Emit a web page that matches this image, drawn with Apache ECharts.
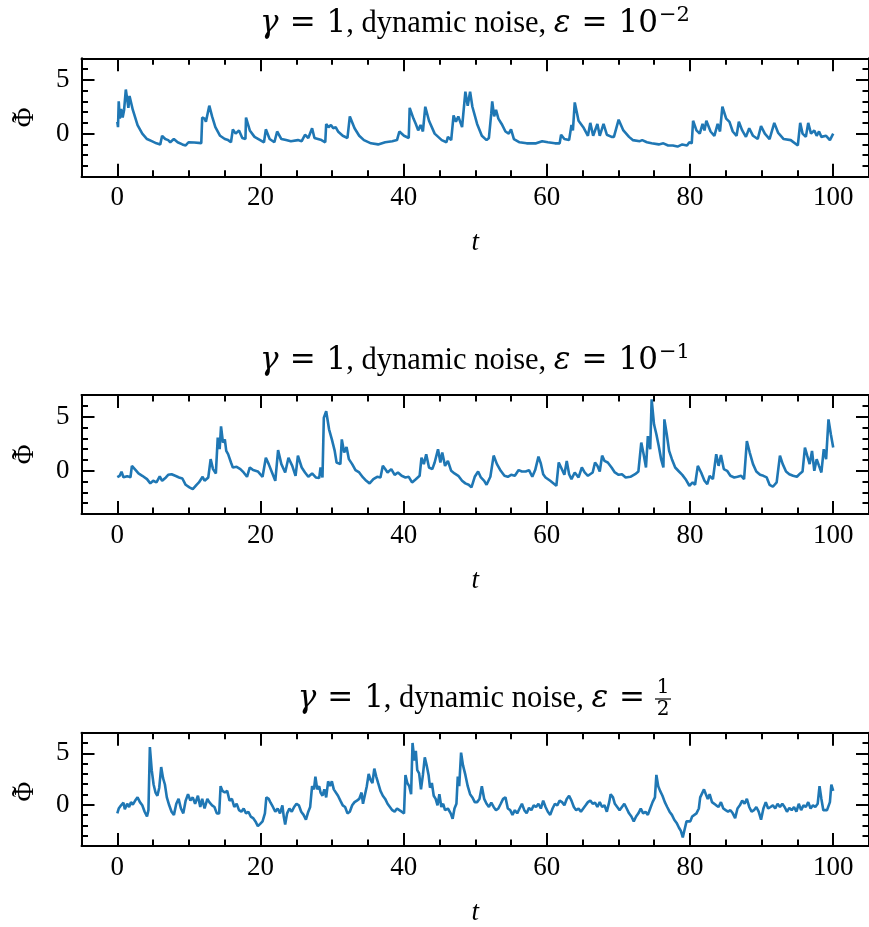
<!DOCTYPE html>
<html><head><meta charset="utf-8">
<script src="https://cdn.jsdelivr.net/npm/echarts@6/dist/echarts.min.js"></script>
<style>html,body{margin:0;padding:0;background:#fff}#c{width:869px;height:927px}</style>
</head><body><div id="c"></div>
<script>
// ---- data: [t, Phi~] pairs ----
const series1 = [[0,1.1],[0.1,0.6],[0.2,3.0],[0.35,1.4],[0.55,2.3],[0.75,1.5],[0.95,2.2],[1.19,4.1],[1.4,3.1],[1.55,2.4],[1.71,3.5],[2.17,2.2],[2.83,0.8],[3.49,0.0],[4.15,-0.5],[4.81,-0.7],[5.47,-0.9],[6.0,-1.0],[6.2,-1.0],[6.26,-0.2],[6.7,-0.5],[7.11,-0.6],[7.4,-0.8],[7.9,-0.5],[8.43,-0.8],[9.09,-1.0],[9.55,-1.1],[9.95,-0.8],[10.74,-0.82],[11.73,-0.88],[11.86,1.5],[12.19,1.4],[12.38,1.1],[12.85,2.6],[13.24,1.6],[13.7,0.6],[14.36,-0.2],[15.02,-0.5],[15.48,-0.6],[15.88,-0.8],[16.14,0.4],[16.53,0.0],[17.0,0.3],[17.46,-0.4],[17.9,-0.5],[17.98,1.5],[18.51,0.3],[19.17,-0.3],[19.96,-0.6],[20.49,-0.8],[20.75,0.4],[21.28,-0.5],[21.94,-0.8],[22.33,0.2],[22.92,-0.5],[23.58,-0.6],[24.24,-0.7],[25.23,-0.6],[25.76,-0.7],[26.22,-0.1],[26.68,-0.4],[27.21,0.5],[27.54,-0.4],[28.52,-0.6],[29.05,-0.8],[29.18,0.9],[29.51,0.6],[29.84,0.8],[30.17,0.5],[30.5,0.6],[30.83,0.2],[31.49,-0.2],[32.15,-0.4],[32.4,-0.5],[32.48,1.6],[33.14,0.5],[33.79,-0.2],[34.45,-0.6],[35.44,-0.9],[36.43,-1.0],[37.42,-0.8],[38.41,-0.7],[39.07,-0.6],[39.4,0.2],[40.05,-0.2],[40.71,-0.4],[40.84,2.4],[41.37,1.4],[41.7,0.9],[42.03,0.3],[42.36,0.8],[42.69,0.2],[43.02,2.5],[43.54,1.2],[44.33,0.0],[45.32,-0.6],[45.98,-0.8],[46.18,-0.3],[46.64,-0.6],[46.97,1.7],[47.3,1.1],[47.63,1.6],[48.16,0.6],[48.62,3.9],[48.95,2.6],[49.28,3.9],[49.6,2.5],[50.26,0.9],[50.92,-0.2],[51.58,-0.6],[51.91,-0.4],[52.24,1.9],[52.37,3.0],[52.64,1.6],[52.9,2.2],[53.23,1.4],[53.69,0.9],[54.22,0.2],[54.68,0.0],[55.0,0.4],[55.4,-0.5],[56.19,-0.8],[57.18,-0.9],[58.5,-0.9],[59.35,-0.7],[60.14,-0.8],[61.13,-0.9],[61.79,-0.9],[61.99,-0.1],[62.45,-0.5],[63.11,-0.6],[63.44,0.8],[63.64,0.3],[63.9,2.9],[64.43,1.2],[65.09,0.6],[65.74,-0.2],[66.07,1.0],[66.47,-0.2],[67.06,0.9],[67.39,-0.2],[67.92,0.9],[68.38,-0.1],[69.04,-0.3],[69.37,-0.3],[70.03,1.3],[70.69,0.3],[71.48,-0.3],[72.0,-0.6],[72.99,-0.7],[73.32,-0.6],[73.98,-0.8],[74.64,-0.9],[75.63,-1.0],[76.28,-0.9],[76.94,-1.1],[77.6,-1.1],[78.26,-1.2],[78.92,-1.0],[79.58,-1.1],[79.91,-0.8],[80.24,-0.9],[80.43,1.2],[80.9,0.3],[81.36,0.0],[81.75,0.9],[82.02,0.3],[82.28,1.2],[82.87,0.2],[83.4,-0.2],[83.86,0.9],[84.19,0.2],[84.52,2.5],[85.05,1.4],[85.51,1.1],[85.97,0.2],[86.5,-0.2],[86.82,1.1],[87.29,0.3],[87.81,-0.3],[88.27,0.5],[88.8,-0.2],[89.46,-0.5],[89.92,0.7],[90.45,0.0],[91.11,-0.5],[91.77,1.0],[92.29,0.1],[93.08,-0.5],[94.07,-0.6],[95.06,-1.1],[95.39,1.0],[95.72,0.0],[96.18,-0.3],[96.51,1.0],[96.9,0.0],[97.36,0.3],[97.69,-0.2],[98.02,0.2],[98.35,-0.3],[99.01,-0.2],[99.54,-0.6],[100,0.0]];

const series2 = [[0,-0.6],[0.33,-0.47],[0.59,-0.1],[0.86,-0.6],[1.38,-0.5],[1.84,-0.6],[2.04,0.45],[2.31,0.5],[2.57,0.05],[2.96,-0.25],[3.49,-0.47],[4.15,-0.78],[4.61,-1.17],[5.01,-0.93],[5.47,-1.08],[5.93,-0.53],[6.26,-0.93],[6.79,-0.62],[7.11,-0.38],[7.58,-0.32],[8.1,-0.47],[8.63,-0.62],[9.09,-0.72],[9.55,-1.3],[10.08,-1.54],[10.54,-1.7],[11.07,-1.3],[11.4,-1.08],[11.92,-0.56],[12.19,-0.93],[12.71,-0.62],[13.04,1.07],[13.37,0.15],[13.77,-0.25],[14.03,3.06],[14.3,2.0],[14.49,4.1],[14.76,2.6],[15.02,2.9],[15.22,1.83],[15.48,1.53],[15.88,0.76],[16.14,0.3],[16.67,0.36],[17.19,0.15],[17.65,-0.16],[18.12,-0.56],[18.51,0.3],[18.97,0.06],[19.63,-0.07],[20.29,-0.56],[20.75,1.2],[21.15,0.61],[21.61,-0.16],[22.07,-0.93],[22.46,1.9],[22.92,0.61],[23.45,-0.16],[23.91,1.2],[24.44,0.45],[24.9,-0.47],[25.23,1.4],[25.76,0.3],[26.22,-0.16],[26.68,-0.56],[27.21,-0.25],[27.73,-0.62],[28.2,-0.68],[28.39,0.3],[28.66,-0.62],[28.85,4.9],[29.18,5.5],[29.58,3.83],[29.97,2.9],[30.37,1.83],[30.63,0.76],[31.16,0.61],[31.36,2.9],[31.69,1.68],[32.02,2.2],[32.35,1.07],[32.81,0.61],[33.27,0.06],[33.79,-0.16],[34.32,-0.62],[34.78,-0.93],[35.24,-1.17],[35.77,-0.78],[36.3,-0.56],[36.76,-0.62],[37.09,0.45],[37.42,0.15],[37.75,-0.16],[38.27,0.15],[38.74,-0.38],[39.2,-0.16],[39.72,-0.47],[40.25,-0.62],[40.71,-0.56],[41.17,-1.08],[41.7,-0.78],[42.23,-0.47],[42.49,1.2],[42.82,0.61],[43.15,1.53],[43.54,0.3],[44.0,0.15],[44.33,0.76],[44.8,1.99],[45.13,0.76],[45.39,1.68],[45.78,0.45],[46.18,0.91],[46.64,-0.01],[47.1,-0.25],[47.63,-0.47],[48.16,-0.93],[48.62,-1.17],[49.08,-1.3],[49.47,-1.54],[49.93,-0.56],[50.4,-0.07],[50.79,-0.62],[51.25,-0.93],[51.58,-1.3],[52.11,-0.56],[52.57,1.4],[53.03,0.61],[53.56,-0.01],[54.08,-0.47],[54.55,-0.56],[55.01,-0.38],[55.53,-0.47],[56.06,0.06],[56.52,-0.07],[57.05,-0.07],[57.51,0.06],[57.97,-0.56],[58.37,0.06],[58.83,1.3],[59.16,0.67],[59.49,-0.32],[59.82,-0.62],[60.47,-0.93],[61.33,-1.39],[61.66,0.76],[61.99,0.3],[62.45,-0.38],[62.78,0.91],[63.11,-0.32],[63.44,-0.78],[63.9,-0.16],[64.43,-0.62],[64.89,0.3],[65.28,-0.16],[65.74,-0.47],[66.4,-0.16],[66.73,0.76],[67.06,0.45],[67.39,-0.07],[67.72,1.4],[68.05,0.91],[68.51,0.76],[69.04,0.3],[69.5,-0.16],[70.03,-0.38],[70.49,-0.32],[71.01,-0.62],[71.67,-0.56],[72.33,-0.32],[72.79,-0.07],[73.19,2.6],[73.52,1.53],[73.85,0.3],[74.11,3.2],[74.44,1.99],[74.64,6.6],[74.97,4.29],[75.3,3.37],[75.63,2.29],[75.96,1.07],[76.28,0.3],[76.42,4.75],[76.75,3.37],[77.08,1.83],[77.47,1.07],[77.93,0.3],[78.46,-0.07],[78.92,-0.38],[79.38,-0.78],[79.91,-1.39],[80.37,-1.08],[80.7,-1.3],[81.09,0.45],[81.55,-0.16],[82.02,-0.93],[82.41,-1.24],[82.74,-0.47],[83.2,-0.78],[83.66,1.53],[83.99,0.45],[84.32,1.46],[84.72,0.15],[85.18,-0.01],[85.64,-0.47],[86.17,-0.62],[86.63,-0.56],[87.15,-0.47],[87.55,-0.78],[87.94,2.75],[88.34,1.68],[88.8,0.61],[89.26,-0.07],[89.79,-0.38],[90.25,-0.47],[90.71,-0.62],[91.11,-1.3],[91.57,-1.48],[92.1,-1.08],[92.56,1.4],[92.95,0.61],[93.41,-0.07],[93.87,-0.32],[94.4,-0.47],[94.93,-0.56],[95.39,-0.25],[95.72,-0.07],[96.05,2.14],[96.38,1.37],[96.71,0.61],[97.04,1.83],[97.36,-0.01],[97.69,1.07],[98.02,0.45],[98.35,-0.16],[98.68,1.99],[99.01,1.07],[99.34,4.75],[99.67,3.37],[100,2.14]];

const series3 = [[0,-0.83],[0.2,-0.36],[0.53,-0.05],[0.86,0.2],[1.05,-0.43],[1.38,0.1],[1.65,-0.21],[1.91,0.26],[2.17,0.01],[2.5,0.41],[2.83,0.72],[3.16,0.26],[3.49,-0.05],[3.82,-0.67],[4.15,-1.14],[4.35,-0.52],[4.55,5.6],[4.81,3.36],[5.07,1.97],[5.34,1.19],[5.6,0.88],[5.86,1.66],[6.13,3.67],[6.39,2.59],[6.65,1.97],[6.92,0.72],[7.25,-0.05],[7.58,-0.67],[7.91,-0.98],[8.24,0.1],[8.56,0.57],[8.89,-0.36],[9.22,-0.83],[9.55,0.41],[9.88,1.03],[10.21,0.41],[10.54,0.72],[10.87,0.1],[11.26,0.88],[11.59,-0.21],[11.86,0.57],[12.19,-0.36],[12.58,0.57],[12.85,0.26],[13.24,-0.05],[13.57,-0.21],[13.9,-0.83],[14.23,-0.83],[14.43,1.81],[14.69,1.35],[15.02,1.19],[15.35,1.35],[15.68,0.41],[16.01,0.57],[16.34,-0.21],[16.67,0.1],[17.0,-0.52],[17.33,-0.67],[17.65,-0.36],[17.98,-0.83],[18.31,-0.67],[18.64,-1.14],[18.97,-1.29],[19.3,-1.61],[19.63,-2.07],[19.96,-1.85],[20.29,-1.61],[20.62,-0.83],[20.82,0.72],[21.15,0.57],[21.41,0.2],[21.74,-0.21],[22.07,-0.67],[22.4,-0.36],[22.73,-0.83],[23.06,-0.05],[23.25,-1.14],[23.45,-1.92],[23.72,-0.83],[24.04,-0.36],[24.37,-0.67],[24.7,-0.21],[25.03,0.1],[25.36,-0.05],[25.69,-0.67],[26.02,-0.98],[26.35,-1.45],[26.68,-0.67],[26.94,-0.21],[27.21,1.81],[27.47,1.5],[27.67,2.74],[27.93,1.5],[28.2,1.81],[28.39,1.19],[28.66,0.88],[28.92,1.5],[29.18,0.72],[29.45,2.28],[29.71,1.81],[29.97,2.28],[30.24,1.5],[30.5,1.35],[30.83,0.88],[31.16,0.41],[31.49,-0.05],[31.82,-0.21],[32.15,-0.83],[32.48,-0.67],[32.81,-0.05],[33.14,0.26],[33.47,0.41],[33.79,0.57],[34.12,1.19],[34.32,0.1],[34.58,0.1],[34.85,1.81],[35.11,2.99],[35.37,2.43],[35.64,2.12],[35.9,3.52],[36.17,2.74],[36.43,2.12],[36.76,1.35],[37.09,0.88],[37.42,0.57],[37.75,0.1],[38.08,-0.21],[38.41,-0.52],[38.74,-0.67],[39.07,-0.36],[39.4,-0.52],[39.72,-0.67],[40.05,-0.83],[40.25,2.9],[40.51,2.12],[40.78,1.81],[41.04,1.03],[41.24,6.0],[41.5,4.3],[41.7,5.23],[41.9,3.36],[42.16,3.05],[42.42,1.5],[42.69,2.9],[42.95,4.6],[43.21,3.83],[43.48,2.9],[43.68,1.66],[43.94,2.12],[44.2,0.88],[44.47,0.57],[44.73,-0.05],[44.99,1.03],[45.26,-0.21],[45.52,0.1],[45.78,-0.52],[46.18,-0.36],[46.57,-0.83],[46.84,-1.36],[47.1,-0.36],[47.37,0.1],[47.56,2.74],[47.76,1.81],[48.02,5.07],[48.29,3.83],[48.62,2.9],[48.95,1.81],[49.28,1.03],[49.6,0.72],[49.93,0.26],[50.26,0.26],[50.59,0.57],[50.92,1.81],[51.25,0.57],[51.58,0.1],[51.91,-0.21],[52.24,0.2],[52.57,-0.21],[52.9,-0.52],[53.23,-0.36],[53.56,0.1],[53.89,0.57],[54.22,0.72],[54.55,-0.36],[54.88,-0.52],[55.2,-0.98],[55.53,-0.52],[55.86,-0.83],[56.19,-0.36],[56.52,0.1],[56.85,-0.52],[57.18,-0.83],[57.51,-0.3],[57.84,-0.52],[58.17,-0.05],[58.5,-0.21],[58.83,0.1],[59.16,-0.36],[59.49,0.41],[59.82,-0.21],[60.14,-0.67],[60.47,-0.98],[60.8,-0.36],[61.13,0.1],[61.46,-0.05],[61.79,0.41],[62.12,0.26],[62.45,-0.05],[62.78,0.57],[63.11,0.88],[63.44,0.41],[63.77,-0.21],[64.1,-0.52],[64.43,-0.36],[64.76,-0.67],[65.09,-0.36],[65.42,-0.05],[65.74,0.26],[66.07,0.41],[66.4,0.1],[66.73,0.2],[67.06,-0.21],[67.39,0.26],[67.72,-0.21],[68.05,-0.05],[68.38,-0.67],[68.71,0.26],[68.91,1.03],[69.24,0.72],[69.5,0.1],[69.83,-0.21],[70.16,-0.52],[70.49,-0.21],[70.82,0.1],[71.15,-0.36],[71.48,-0.83],[71.81,-1.14],[72.14,-1.61],[72.47,-1.14],[72.79,-0.83],[73.12,-0.36],[73.45,-0.83],[73.78,-0.67],[74.11,-0.98],[74.44,-0.36],[74.77,0.26],[75.1,0.72],[75.3,2.9],[75.56,1.81],[75.82,1.35],[76.15,0.88],[76.48,0.26],[76.81,-0.21],[77.14,-0.67],[77.47,-0.98],[77.8,-1.45],[78.13,-1.76],[78.46,-2.23],[78.72,-2.54],[78.99,-3.16],[79.25,-2.38],[79.51,-1.61],[79.78,-1.45],[80.04,-1.61],[80.3,-1.14],[80.57,-1.29],[80.9,-0.83],[81.23,-0.36],[81.42,0.72],[81.69,0.88],[81.95,1.5],[82.21,1.03],[82.48,0.57],[82.74,1.03],[83.07,0.26],[83.33,0.41],[83.66,-0.05],[83.99,-0.21],[84.32,0.26],[84.65,-0.36],[84.98,-0.52],[85.31,-0.67],[85.64,-0.52],[85.97,-0.83],[86.3,-1.29],[86.63,-0.36],[86.96,-0.05],[87.29,0.41],[87.62,0.1],[87.94,0.57],[88.27,-0.21],[88.6,-0.67],[88.93,-0.52],[89.26,-0.21],[89.59,-0.67],[89.92,-1.45],[90.25,-0.36],[90.58,0.26],[90.91,-0.36],[91.24,-0.21],[91.57,-0.05],[91.9,-0.36],[92.23,0.1],[92.56,-0.21],[92.89,0.1],[93.21,-0.21],[93.54,-0.67],[93.87,-0.3],[94.2,-0.52],[94.53,-0.21],[94.86,-0.67],[95.19,0.1],[95.52,-0.52],[95.85,-0.05],[96.18,-0.21],[96.51,0.26],[96.84,-0.36],[97.17,-0.05],[97.5,-0.21],[97.83,0.1],[98.09,1.81],[98.35,0.57],[98.62,-0.52],[98.88,-0.67],[99.14,-0.52],[99.34,-0.36],[99.54,0.26],[99.74,1.97],[100,1.35]];

const xMajorTicks = [0, 20, 40, 60, 80, 100];
const yMajorTicks = [0, 5];
const xRange = [-5, 105];
const yRange = [-4, 7];
const xLabel = 't';
const yLabelBase = '\u03A6';
const yLabelAccent = '\u02DC';
const titleExps = ['\u22122', '\u22121'];

// ---- styling / layout ----
const FONT = 'Liberation Serif';
const MATH = 'DejaVu Serif';
const BLACK = '#000';
const panels = [
  {top: 58.3, height: 118.4, data: series1, titleY: 24},
  {top: 395, height: 119, data: series2, titleY: 361},
  {top: 732.7, height: 118, data: series3, titleY: 699}
];
const gridLeft = 81.5, gridWidth = 790;
const MAJ = 13, MIN = 6.5, LW = 2;

const grids = [], xAxes = [], yAxes = [], series = [];
panels.forEach((p, i) => {
  grids.push({left: gridLeft, top: p.top, width: gridWidth, height: p.height, containLabel: false});
  const baseX = {gridIndex: i, type: 'value', min: xRange[0], max: xRange[1],
    splitLine: {show: false}, axisPointer: {show: false}};
  const baseY = {gridIndex: i, type: 'value', min: yRange[0], max: yRange[1],
    splitLine: {show: false}, axisPointer: {show: false}};
  const xi = xAxes.length, yi = yAxes.length;
  const tick = (len, custom) => Object.assign({show: true, inside: true, length: len, lineStyle: {color: BLACK, width: LW}}, custom ? {customValues: custom} : {});
  xAxes.push(Object.assign({}, baseX, {position: 'bottom',
    axisLine: {show: true, onZero: false, lineStyle: {color: BLACK, width: LW}},
    axisTick: tick(MAJ, xMajorTicks),
    axisLabel: {show: true, customValues: xMajorTicks, margin: 8, color: BLACK, fontSize: 27, fontFamily: FONT},
    name: xLabel, nameLocation: 'middle', nameGap: 53,
    nameTextStyle: {fontStyle: 'italic', fontSize: 27, fontFamily: FONT, color: BLACK}}));
  xAxes.push(Object.assign({}, baseX, {position: 'bottom', interval: 5,
    axisLine: {show: false, onZero: false}, axisTick: tick(MIN), axisLabel: {show: false}}));
  xAxes.push(Object.assign({}, baseX, {position: 'top',
    axisLine: {show: true, onZero: false, lineStyle: {color: BLACK, width: LW}},
    axisTick: tick(MAJ, xMajorTicks), axisLabel: {show: false}}));
  xAxes.push(Object.assign({}, baseX, {position: 'top', interval: 5,
    axisLine: {show: false, onZero: false}, axisTick: tick(MIN), axisLabel: {show: false}}));
  yAxes.push(Object.assign({}, baseY, {position: 'left',
    axisLine: {show: true, onZero: false, lineStyle: {color: BLACK, width: LW}},
    axisTick: tick(MAJ, yMajorTicks),
    axisLabel: {show: true, customValues: yMajorTicks, margin: 12, color: BLACK, fontSize: 27, fontFamily: FONT}}));
  yAxes.push(Object.assign({}, baseY, {position: 'left', interval: 1,
    axisLine: {show: false, onZero: false}, axisTick: tick(MIN), axisLabel: {show: false}}));
  yAxes.push(Object.assign({}, baseY, {position: 'right',
    axisLine: {show: true, onZero: false, lineStyle: {color: BLACK, width: LW}},
    axisTick: tick(MAJ, yMajorTicks), axisLabel: {show: false}}));
  yAxes.push(Object.assign({}, baseY, {position: 'right', interval: 1,
    axisLine: {show: false, onZero: false}, axisTick: tick(MIN), axisLabel: {show: false}}));
  series.push({type: 'line', xAxisIndex: xi, yAxisIndex: yi, data: p.data,
    showSymbol: false, symbol: 'none', clip: true, animation: false,
    lineStyle: {color: '#1f77b4', width: 2.6}});
});

// ---- titles: math parts in DejaVu Serif (mathtext look), text in Times-like serif ----
const TF = 30.5, MF = 31, LH = 38;
const tok = (extra) => Object.assign({fontSize: TF, fontFamily: FONT, fill: BLACK, lineHeight: LH}, extra);
const rich = {
  gam: tok({fontFamily: MATH, fontStyle: 'italic', fontSize: MF}),
  eq: tok({fontFamily: MATH, fontSize: MF, padding: [0, 11, 0, 11]}),
  m: tok({fontFamily: MATH, fontSize: MF}),
  txt: tok({}),
  sup: {fontSize: 21, fontFamily: MATH, fill: BLACK, lineHeight: 22, verticalAlign: 'top', padding: [0, 0, 0, 1]}
};
const prefix = '{gam|\u03B3}{eq|=}{m|1}{txt|, dynamic noise, }{gam|\u03B5}{eq|=}';
const graphic = [];
panels.forEach((p, i) => {
  if (i < 2) {
    graphic.push({type: 'text', x: 475, y: p.titleY, style: {text: prefix + '{m|10}{sup|' + titleExps[i] + '}', align: 'center', verticalAlign: 'middle', fontSize: TF, fontFamily: FONT, fill: BLACK, rich}});
  } else {
    graphic.push({type: 'text', x: 656, y: p.titleY, style: {text: prefix, align: 'right', verticalAlign: 'middle', fontSize: TF, fontFamily: FONT, fill: BLACK, rich}});
    graphic.push({type: 'text', x: 663, y: 688, style: {text: '1', align: 'center', verticalAlign: 'middle', fontSize: 20, fontFamily: MATH, fill: BLACK}});
    graphic.push({type: 'line', shape: {x1: 655, y1: 699, x2: 671, y2: 699}, style: {stroke: BLACK, lineWidth: 1.2}});
    graphic.push({type: 'text', x: 663, y: 710, style: {text: '2', align: 'center', verticalAlign: 'middle', fontSize: 20, fontFamily: MATH, fill: BLACK}});
  }
  // rotated y-axis label: Phi with a tilde accent
  const cy = p.top + p.height / 2;
  graphic.push({type: 'group', x: 26, y: cy, rotation: Math.PI / 2, children: [
    {type: 'text', x: 0, y: 0, style: {text: yLabelBase, align: 'center', verticalAlign: 'middle', fontSize: 27, fontFamily: FONT, fill: BLACK}},
    {type: 'text', x: 0, y: -1, style: {text: yLabelAccent, align: 'center', verticalAlign: 'middle', fontSize: 32, fontFamily: FONT, fill: BLACK}}
  ]});
});

const chart = echarts.init(document.getElementById('c'), null, {renderer: 'canvas'});
chart.setOption({
  backgroundColor: '#fff',
  animation: false,
  grid: grids, xAxis: xAxes, yAxis: yAxes, series, graphic
});
</script></body></html>
